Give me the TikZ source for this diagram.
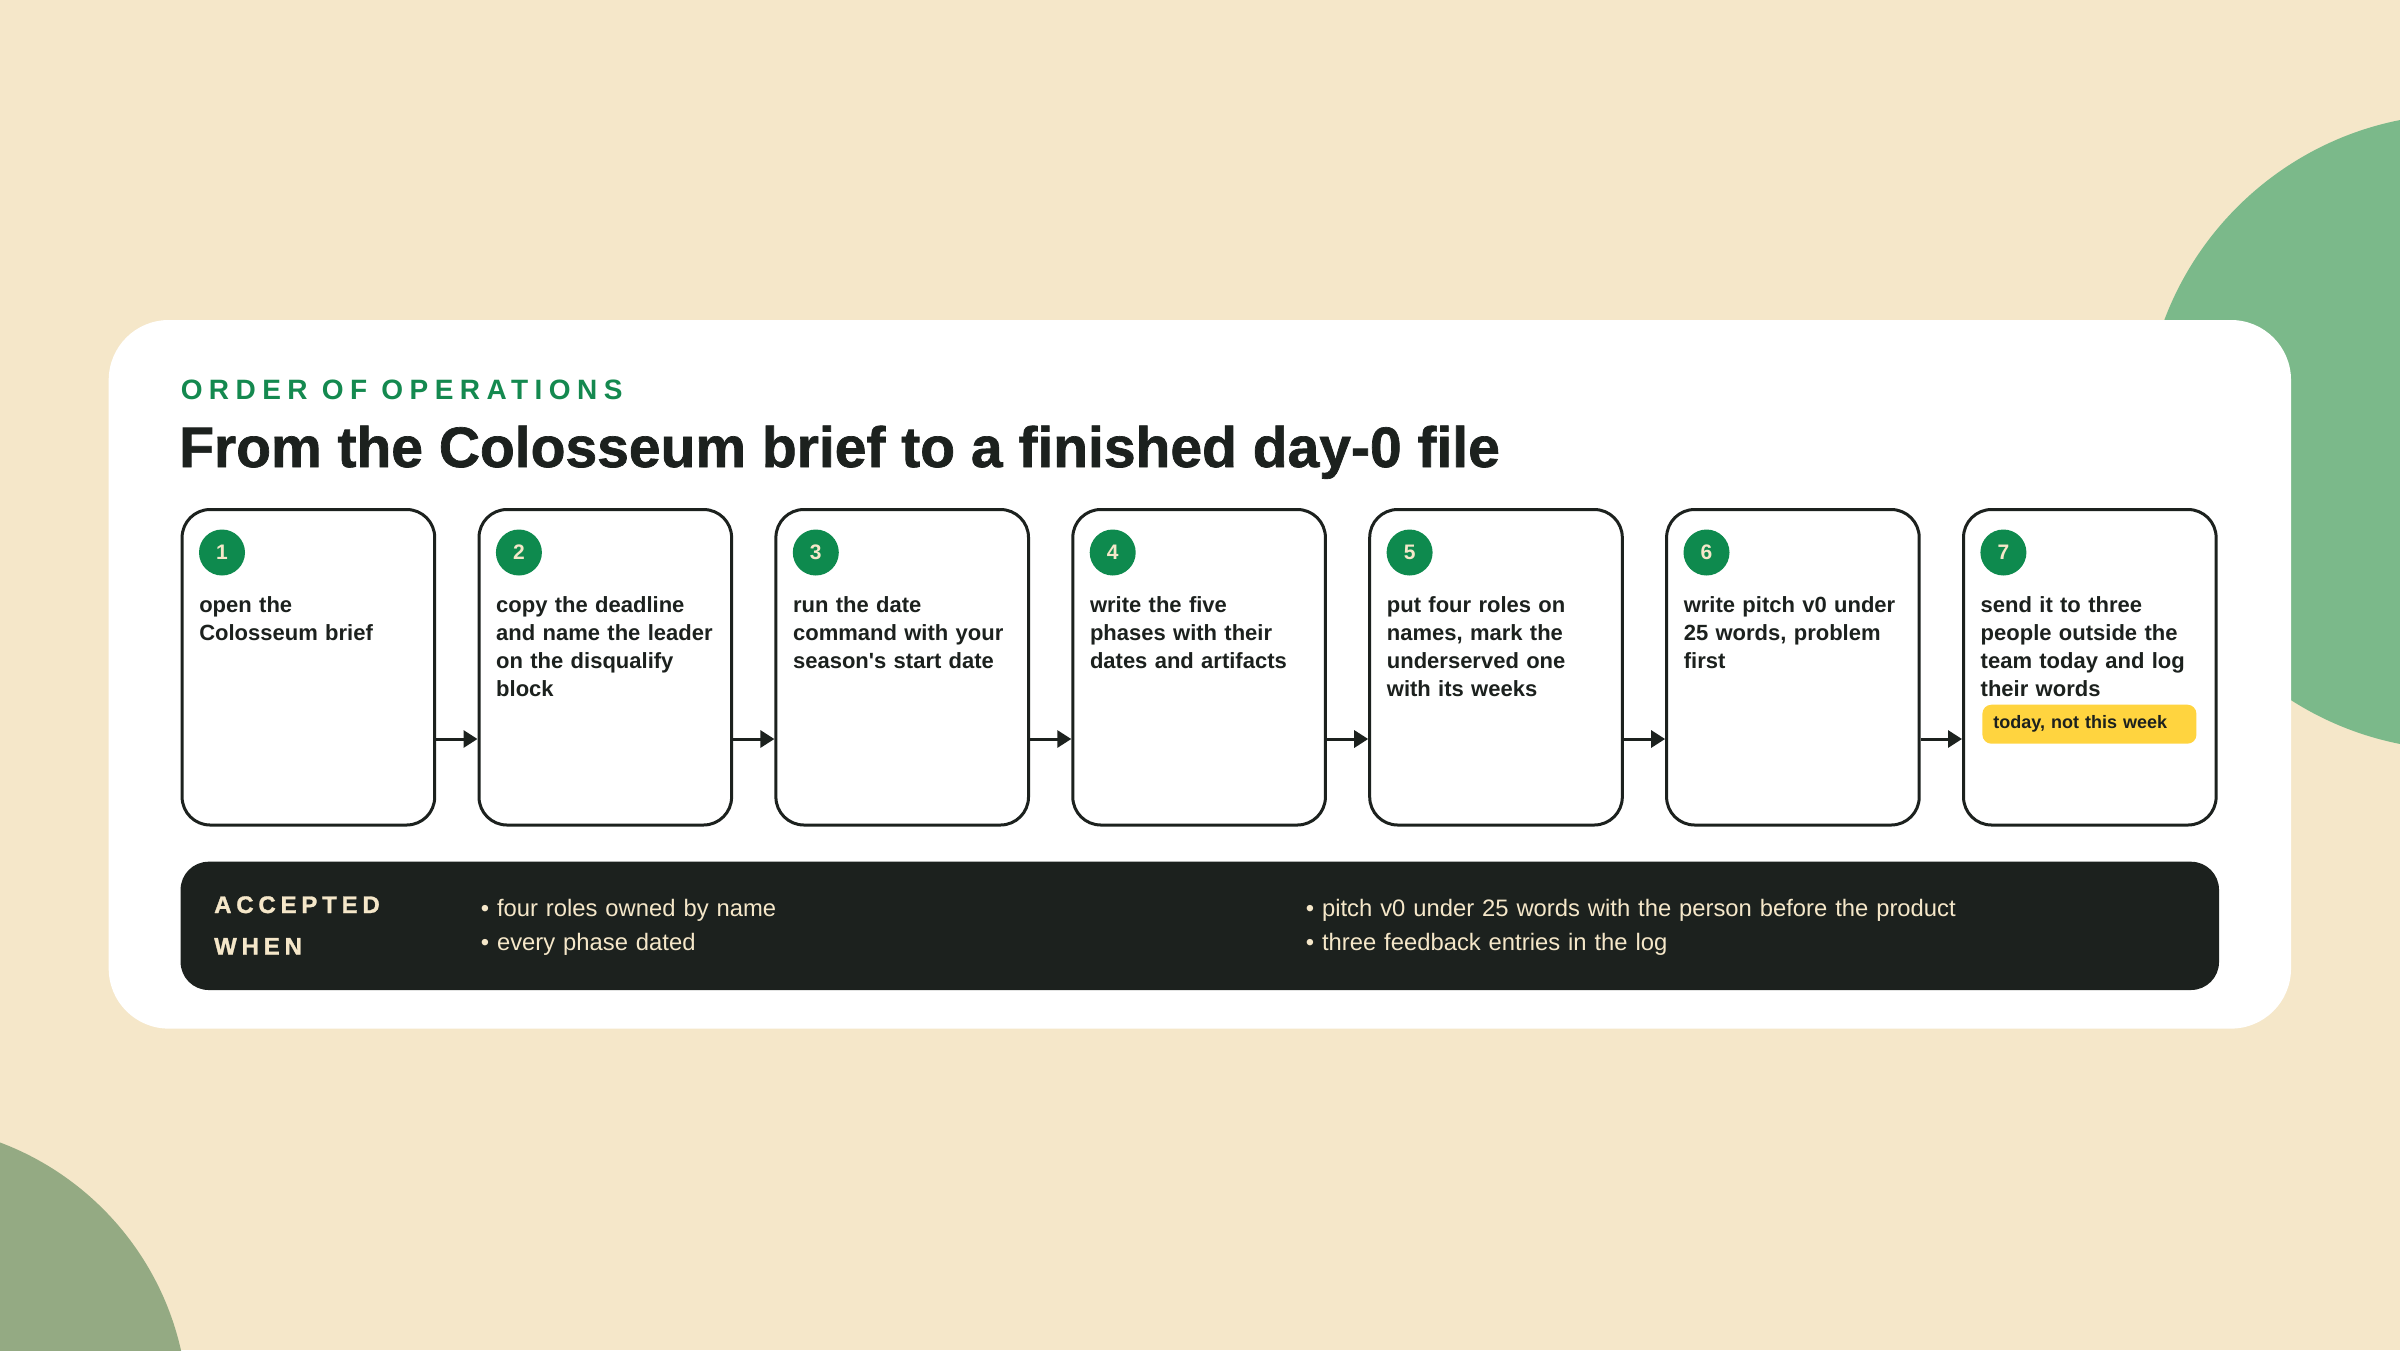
\documentclass[tikz,border=0pt]{standalone}
\usepackage{fontspec}
\setmainfont{Liberation Sans}
\newfontfamily\kickerfont[LetterSpace=23]{Liberation Sans}
\newfontfamily\acceptfont[LetterSpace=20,BoldFeatures={FakeBold=1.2}]{Liberation Sans}
\newfontfamily\headfont[BoldFeatures={FakeBold=1.2}]{Liberation Sans}
\usetikzlibrary{arrows.meta}
\definecolor{cream}{HTML}{F5E7C9}
\definecolor{blobA}{HTML}{7BB98A}
\definecolor{blobB}{HTML}{94AA83}
\definecolor{ink}{HTML}{1C211E}
\definecolor{kgreen}{HTML}{14894F}
\definecolor{numgreen}{HTML}{0E8A4E}
\definecolor{tagyellow}{HTML}{FFD43F}
\begin{document}
\begin{tikzpicture}[x=1pt,y=-1pt,
  stepbox/.style={draw=ink, line width=3pt, rounded corners=28pt, fill=white,
    minimum width=252.6pt, minimum height=315.5pt, inner sep=0pt},
  numdot/.style={circle, fill=numgreen, minimum size=46pt, inner sep=0pt,
    text=cream, font=\bfseries\fontsize{21}{21}\selectfont},
  steptext/.style={anchor=base west, inner sep=0pt, text width=245pt, align=left,
    text=ink, font=\bfseries\fontsize{22}{28}\selectfont},
  flow/.style={draw=ink, line width=3pt, -{Triangle[length=14pt,width=17pt]}},
  bartext/.style={anchor=base west, inner sep=0pt, align=left, text=cream}
]
\useasboundingbox (0,0) rectangle (2400,1350);
\begin{scope}
\clip (0,0) rectangle (2400,1350);
\fill[cream] (0,0) rectangle (2400,1350);
\fill[blobA] (2462,432) circle[radius=318];
\fill[blobB] (-102,1414) circle[radius=290];
\end{scope}
% card
\fill[white, rounded corners=60pt] (108.7,320) rectangle (2291,1028.6);
% headings
\node[anchor=base west, inner sep=0pt, text=kgreen, font=\kickerfont\bfseries\fontsize{28}{28}\selectfont] (kicker) at (180.6,399) {ORDER OF OPERATIONS};
\node[anchor=base west, inner sep=0pt, text=ink, font=\headfont\bfseries\fontsize{57}{57}\selectfont] (title) at (179,467) {From the Colosseum brief to a finished day-0 file};
% boxes
\node[stepbox] (b1) at (308.4,667.25) {};
\node[stepbox] (b2) at (605.3,667.25) {};
\node[stepbox] (b3) at (902.2,667.25) {};
\node[stepbox] (b4) at (1199.1,667.25) {};
\node[stepbox] (b5) at (1496.0,667.25) {};
\node[stepbox] (b6) at (1792.9,667.25) {};
\node[stepbox] (b7) at (2089.8,667.25) {};
% numbers
\node[numdot] (n1) at ([xshift=41.4pt,yshift=-44.5pt]b1.north west) {1};
\node[numdot] (n2) at ([xshift=41.4pt,yshift=-44.5pt]b2.north west) {2};
\node[numdot] (n3) at ([xshift=41.4pt,yshift=-44.5pt]b3.north west) {3};
\node[numdot] (n4) at ([xshift=41.4pt,yshift=-44.5pt]b4.north west) {4};
\node[numdot] (n5) at ([xshift=41.4pt,yshift=-44.5pt]b5.north west) {5};
\node[numdot] (n6) at ([xshift=41.4pt,yshift=-44.5pt]b6.north west) {6};
\node[numdot] (n7) at ([xshift=41.4pt,yshift=-44.5pt]b7.north west) {7};
% texts
\node[steptext] (t1) at ([xshift=18.5pt,yshift=-104.5pt]b1.north west) {open the\\Colosseum brief};
\node[steptext] (t2) at ([xshift=18.5pt,yshift=-104.5pt]b2.north west) {copy the deadline\\and name the leader\\on the disqualify\\block};
\node[steptext] (t3) at ([xshift=18.5pt,yshift=-104.5pt]b3.north west) {run the date\\command with your\\season\textquotesingle s start date};
\node[steptext] (t4) at ([xshift=18.5pt,yshift=-104.5pt]b4.north west) {write the five\\phases with their\\dates and artifacts};
\node[steptext] (t5) at ([xshift=18.5pt,yshift=-104.5pt]b5.north west) {put four roles on\\names, mark the\\underserved one\\with its weeks};
\node[steptext] (t6) at ([xshift=18.5pt,yshift=-104.5pt]b6.north west) {write pitch v0 under\\25 words, problem\\first};
\node[steptext] (t7) at ([xshift=18.5pt,yshift=-104.5pt]b7.north west) {send it to three\\people outside the\\team today and log\\their words};
% tag
\node[anchor=north west, fill=tagyellow, rounded corners=9pt, text width=192pt, inner xsep=11pt, inner ysep=0pt,
  minimum height=39pt, align=left, text=ink, font=\bfseries\fontsize{18}{18}\selectfont]
  (tag) at ([xshift=20.2pt,yshift=-196.5pt]b7.north west) {today, not this week};
% arrows
\draw[flow] ([yshift=-231pt]b1.north east) -- ([yshift=-231pt]b2.north west);
\draw[flow] ([yshift=-231pt]b2.north east) -- ([yshift=-231pt]b3.north west);
\draw[flow] ([yshift=-231pt]b3.north east) -- ([yshift=-231pt]b4.north west);
\draw[flow] ([yshift=-231pt]b4.north east) -- ([yshift=-231pt]b5.north west);
\draw[flow] ([yshift=-231pt]b5.north east) -- ([yshift=-231pt]b6.north west);
\draw[flow] ([yshift=-231pt]b6.north east) -- ([yshift=-231pt]b7.north west);
% accepted bar
\node[fill=ink, rounded corners=28pt, minimum width=2038.4pt, minimum height=128.3pt, inner sep=0pt] (bar) at (1199.8,925.85) {};
\node[bartext, text width=200pt, font=\acceptfont\bfseries\fontsize{24}{41.5}\selectfont] (acc) at (214,913) {ACCEPTED\\WHEN};
\node[bartext, text width=700pt, font=\fontsize{23.8}{34}\selectfont] (c1) at (480.6,916) {• four roles owned by name\\• every phase dated};
\node[bartext, text width=900pt, font=\fontsize{23.8}{34}\selectfont] (c2) at (1305.6,916) {• pitch v0 under 25 words with the person before the product\\• three feedback entries in the log};
\end{tikzpicture}
\end{document}
